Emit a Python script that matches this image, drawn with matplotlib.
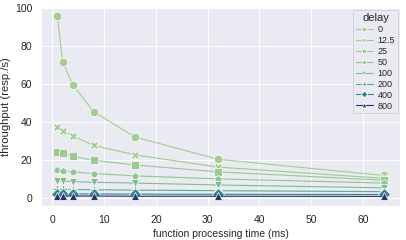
import numpy as np
import pandas as pd
import matplotlib
matplotlib.use("Agg")
import matplotlib.pyplot as plt
import seaborn as sns

proc_time = [1, 2, 4, 8, 16, 32, 64]
delays = [0, 12.5, 25, 50, 100, 200, 400, 800]

throughput = {
    0:    [95.8, 71.8, 59.5, 45.5, 32.2, 20.5, 12.0],
    12.5: [37.5, 35.6, 32.7, 27.8, 22.8, 16.4, 10.5],
    25:   [24.3, 23.6, 22.0, 20.0, 17.5, 13.9, 9.5],
    50:   [15.0, 14.4, 13.9, 13.0, 11.8, 10.2, 8.0],
    100:  [9.2, 9.0, 8.8, 8.4, 8.0, 7.0, 5.5],
    200:  [4.8, 4.7, 4.6, 4.5, 4.3, 4.0, 3.5],
    400:  [2.4, 2.4, 2.3, 2.3, 2.2, 2.1, 2.0],
    800:  [1.2, 1.2, 1.2, 1.2, 1.1, 1.1, 1.0],
}

marker_map = {0: "o", 12.5: "X", 25: "s", 50: "p", 100: "v",
              200: "P", 400: "D", 800: "^"}

rows = []
for d in delays:
    for t, v in zip(proc_time, throughput[d]):
        rows.append({"proc": t, "throughput": v, "delay": d})
df = pd.DataFrame(rows)

sns.set_theme(style="darkgrid")
plt.rcParams["font.family"] = ["Liberation Sans", "DejaVu Sans"]

fig = plt.figure(figsize=(6.0, 3.54), dpi=67.8)
ax = fig.add_axes([0.101, 0.142, 0.882, 0.825])
sns.lineplot(data=df, x="proc", y="throughput", hue="delay", style="delay",
             markers=marker_map, dashes=False, palette="crest", legend="full",
             markersize=9, linewidth=1.2, ax=ax)

ax.set_xlabel("function processing time (ms)", fontsize=11)
ax.set_ylabel("throughput (resp./s)", fontsize=12)
ax.tick_params(labelsize=11)
ax.set_ylim(-4, 100)
ax.set_yticks([0, 20, 40, 60, 80, 100])

handles, labels = ax.get_legend_handles_labels()
labels = ["%g" % float(l) for l in labels]
leg = ax.legend(handles, labels, title="delay", loc="upper right",
                fontsize=9.5, title_fontsize=12, labelspacing=0.22,
                handlelength=1.9, borderpad=0.3, markerscale=0.55,
                borderaxespad=0.25, handletextpad=0.5)

fig.savefig("out.png", dpi=67.8)
